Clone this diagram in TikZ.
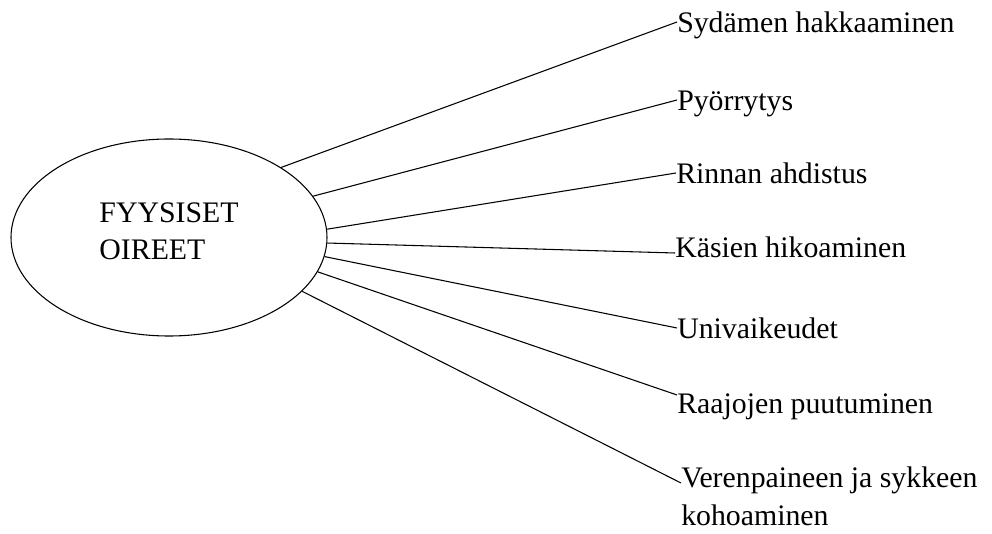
\documentclass[tikz,border=0pt]{standalone}
\usepackage{fontspec}
\setmainfont{Liberation Serif}
\usetikzlibrary{shapes.geometric}

\begin{document}
\begin{tikzpicture}[x=0.75pt,y=-0.75pt,
        every node/.style={font=\fontsize{22.35}{27.75}\selectfont},
        oval/.style={draw=black,line width=0.8pt,ellipse,inner sep=0pt,minimum width=237pt,minimum height=147.75pt,text height=14.8pt,text depth=37.6pt},
        oire/.style={anchor=west,inner sep=0pt,text height=21.4pt,text depth=5.6pt},
        yhteys/.style={line width=0.8pt}]
        \useasboundingbox (0,0) rectangle (992,534);

        \node[oval] (fyys) at (169,237.5) {\begin{tabular}[t]{@{}l@{}}FYYSISET\\OIREET\end{tabular}};

        % labels, the line meets each one at its own height
        \node[oire] (syd) at (677,22) {Sydämen hakkaaminen};
        \node[oire] (pyo) at (677,100) {Pyörrytys};
        \node[oire] (rin) at (676,173) {Rinnan ahdistus};
        \node[oire,text depth=13.9pt] (kas) at (675,253) {Käsien hikoaminen};
        \node[oire] (uni) at (677,328) {Univaikeudet};
        \node[oire,text height=32.6pt] (raa) at (677,395) {Raajojen puutuminen};
        \node[oire,text depth=15.4pt] (ver) at (681,483) {\begin{tabular}[t]{@{}l@{}}Verenpaineen ja sykkeen\\[0.75pt]kohoaminen\end{tabular}};

        \path [yhteys] (fyys.32.4) edge (syd.west);
        \path [yhteys] (fyys.16.1) edge (pyo.west);
        \path [yhteys] (fyys.3.4) edge (rin.west);
        \path [yhteys] (fyys.-2.4) edge (kas.west);
        \path [yhteys] (fyys.-7.6) edge (uni.west);
        \path [yhteys] (fyys.-13.6) edge (raa.west);
        \path [yhteys] (fyys.-22.8) edge (ver.west);
    \end{tikzpicture}
\end{document}
